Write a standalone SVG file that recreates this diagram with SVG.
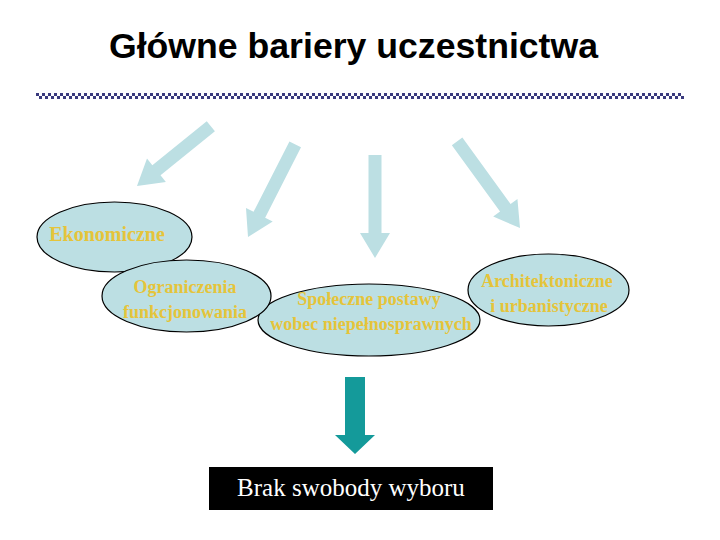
<svg xmlns="http://www.w3.org/2000/svg" width="720" height="540" viewBox="0 0 720 540">
<style>
.title{font-family:"Liberation Sans",Arial,sans-serif;font-weight:bold;font-size:35px;fill:#000}
.ell{fill:#bcdfe3;stroke:#000;stroke-width:1.2}
.lbl{font-family:"Liberation Serif","Times New Roman",serif;font-weight:bold;font-size:18px;fill:#e5c43a;text-anchor:middle}
.arr{fill:#bcdfe3}
.box{font-family:"Liberation Serif","Times New Roman",serif;font-size:25px;fill:#fff;text-anchor:middle}
</style>
<defs>
<pattern id="chk" x="36" y="93" width="6" height="6" patternUnits="userSpaceOnUse">
<rect x="0" y="0" width="3" height="3" fill="#3a3a7e"/>
<rect x="3" y="3" width="3" height="3" fill="#3a3a7e"/>
</pattern>
</defs>
<rect width="720" height="540" fill="#fff"/>
<text class="title" x="109" y="58" textLength="489" lengthAdjust="spacingAndGlyphs">Główne bariery uczestnictwa</text>
<rect x="36" y="93" width="648" height="6" fill="url(#chk)"/>
<g id="connectors">
<polygon class="arr" transform="translate(137,186) rotate(51)" points="-6.5,-95 6.5,-95 6.5,-25 15,-25 0,0 -15,-25 -6.5,-25"/>
<polygon class="arr" transform="translate(248,237) rotate(27)" points="-6.5,-104 6.5,-104 6.5,-25 15,-25 0,0 -15,-25 -6.5,-25"/>
<polygon class="arr" transform="translate(375,258)" points="-6.5,-103 6.5,-103 6.5,-25 15,-25 0,0 -15,-25 -6.5,-25"/>
<polygon class="arr" transform="translate(520,228) rotate(-36)" points="-6.5,-107 6.5,-107 6.5,-25 15,-25 0,0 -15,-25 -6.5,-25"/>
<polygon fill="#149a9a" points="345,377 365,377 365,435 375,435 355,454 335,435 345,435"/>
</g>
<g id="ekonomiczne">
<ellipse class="ell" cx="114.5" cy="237" rx="77.5" ry="35"/>
<text class="lbl" x="107" y="241" style="font-size:20px">Ekonomiczne</text>
</g>
<g id="spoleczne">
<ellipse class="ell" cx="369" cy="320" rx="111" ry="36"/>
<text class="lbl" x="369" y="305">Społeczne postawy</text>
<text class="lbl" x="371" y="330">wobec niepełnosprawnych</text>
</g>
<g id="ograniczenia">
<ellipse class="ell" cx="186.5" cy="296" rx="84.5" ry="36"/>
<text class="lbl" x="185" y="293">Ograniczenia</text>
<text class="lbl" x="185" y="318">funkcjonowania</text>
</g>
<g id="architektoniczne">
<ellipse class="ell" cx="548.5" cy="290" rx="80.5" ry="36"/>
<text class="lbl" x="547" y="287">Architektoniczne</text>
<text class="lbl" x="549" y="312">i urbanistyczne</text>
</g>
<g id="brak">
<rect x="209" y="467" width="284" height="43" fill="#000"/>
<text class="box" x="351" y="496">Brak swobody wyboru</text>
</g>
</svg>
